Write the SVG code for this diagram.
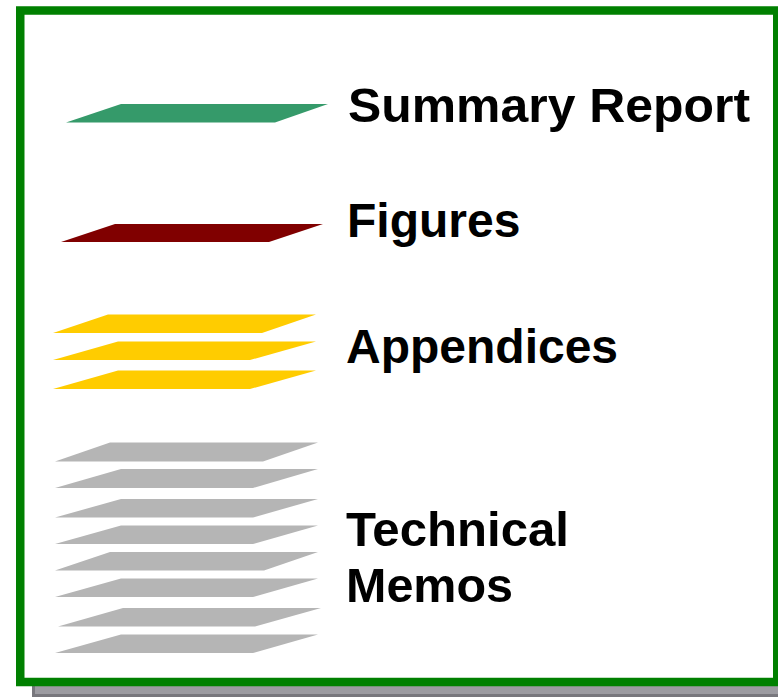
<svg xmlns="http://www.w3.org/2000/svg" width="778" height="697" viewBox="0 0 778 697">
<style>
.lbl{font-family:"Liberation Sans",Arial,sans-serif;font-weight:bold;font-size:48px;fill:#000}
.green{fill:#359a6a}
.red{fill:#800000}
.yel{fill:#ffcc00}
.gry{fill:#b5b5b5}
</style>
<g id="frame">
<rect x="33.5" y="18.5" width="760" height="677" fill="#9c9ba1" stroke="#78777d" stroke-width="3"/>
<rect x="20.25" y="10.5" width="757" height="671.5" fill="#ffffff" stroke="#008000" stroke-width="8.5"/>
</g>
<g id="summary-report">
<polygon class="green" points="121,104 328,104 275,122.5 66,122.5"/>
<text class="lbl" x="348" y="121.5" textLength="402" lengthAdjust="spacingAndGlyphs">Summary Report</text>
</g>
<g id="figures">
<polygon class="red" points="115,224 323,224 269,242 61,242"/>
<text class="lbl" x="347" y="237">Figures</text>
</g>
<g id="appendices">
<polygon class="yel" points="108,314.5 316,314.5 262,333 53,333"/>
<polygon class="yel" points="118,341.5 316,341.5 250,360 53,360"/>
<polygon class="yel" points="118,370.5 316,370.5 250,389 53,389"/>
<text class="lbl" x="346" y="363">Appendices</text>
</g>
<g id="technical-memos">
<polygon class="gry" points="110,442.5 318,442.5 263,461.5 55,461.5"/>
<polygon class="gry" points="121,469 318,469 253,488 55,488"/>
<polygon class="gry" points="121,499 318,499 253,517.5 55,517.5"/>
<polygon class="gry" points="121,525.5 318,525.5 253,544 55,544"/>
<polygon class="gry" points="110,552 318,552 264,570.5 55,570.5"/>
<polygon class="gry" points="121,578.5 318,578.5 253,597 55,597"/>
<polygon class="gry" points="123,608 321,608 255,626.5 58,626.5"/>
<polygon class="gry" points="121,634.5 318,634.5 253,653 55,653"/>
<text class="lbl" x="346" y="546" textLength="223" lengthAdjust="spacingAndGlyphs">Technical</text>
<text class="lbl" x="346" y="602" textLength="167" lengthAdjust="spacingAndGlyphs">Memos</text>
</g>
<g id="connectors"/>
</svg>
